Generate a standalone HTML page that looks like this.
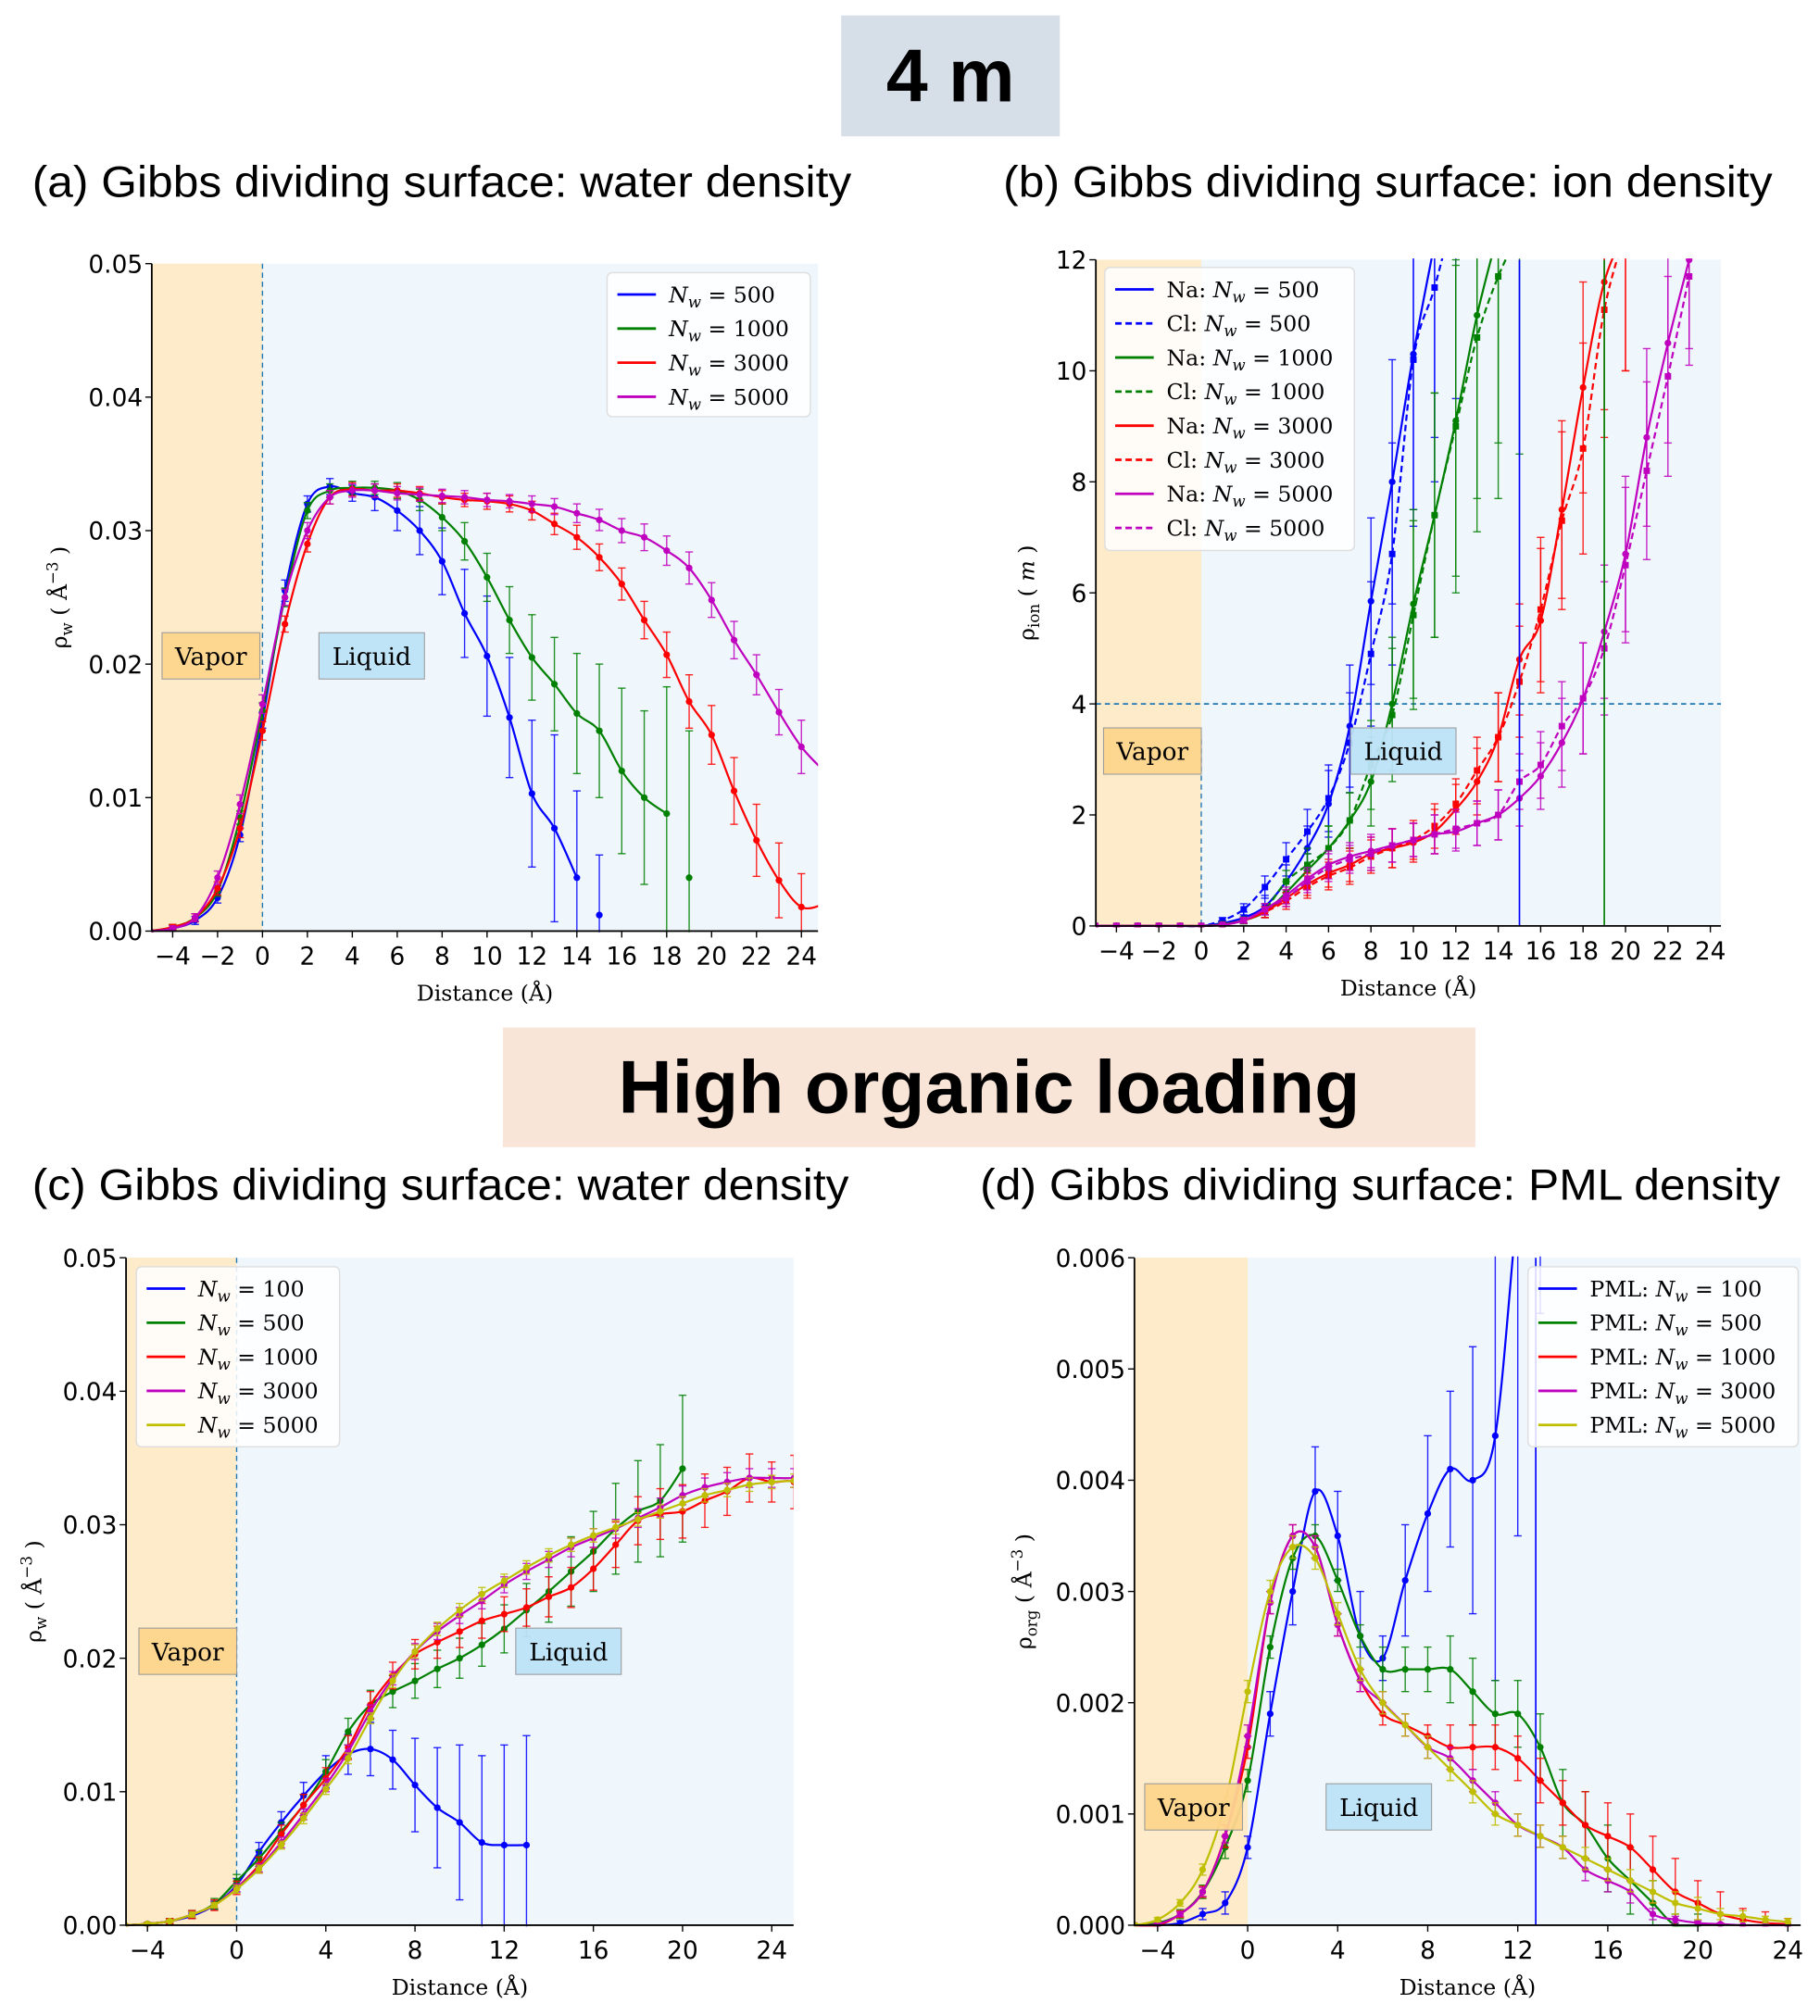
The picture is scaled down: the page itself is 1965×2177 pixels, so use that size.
<!DOCTYPE html>
<html><head><meta charset="utf-8"><style>
html,body{margin:0;padding:0;background:#fff;}
svg{display:block;}
.tick{font-family:"DejaVu Sans","Liberation Sans",sans-serif;font-size:19px;fill:#000;}
.lab{font-family:"DejaVu Serif","Liberation Serif",serif;font-size:17px;fill:#000;}
.leg{font-family:"DejaVu Serif","Liberation Serif",serif;font-size:17px;fill:#000;}
.ttl{font-family:"Liberation Sans",sans-serif;font-size:34px;fill:#000;}
</style></head><body>
<svg id="root" width="1965" height="2177" viewBox="0 0 1415 1567.6" preserveAspectRatio="none" xmlns="http://www.w3.org/2000/svg">
<rect x="654" y="12" width="170" height="94" fill="#d6dee8"/>
<text x="739" y="79" text-anchor="middle" font-family="Liberation Sans,sans-serif" font-weight="bold" font-size="58">4 m</text>
<rect x="391" y="799" width="756" height="93" fill="#f9e4d8"/>
<text x="769" y="865" text-anchor="middle" font-family="Liberation Sans,sans-serif" font-weight="bold" font-size="58">High organic loading</text>
<text class="ttl" x="25" y="153" textLength="637" lengthAdjust="spacingAndGlyphs">(a) Gibbs dividing surface: water density</text>
<text class="ttl" x="780" y="153" textLength="598" lengthAdjust="spacingAndGlyphs">(b) Gibbs dividing surface: ion density</text>
<text class="ttl" x="25" y="933" textLength="635" lengthAdjust="spacingAndGlyphs">(c) Gibbs dividing surface: water density</text>
<text class="ttl" x="762" y="933" textLength="622" lengthAdjust="spacingAndGlyphs">(d) Gibbs dividing surface: PML density</text>
<g id="panels"></g>
</svg>
<script>
// ---- Panel (a) data: water density, 4 m ----
const aX0 = -5;
const aBlue = [0,0.0002,0.0008,0.0025,0.0072,0.0158,0.0255,0.032,0.0333,0.0328,0.0325,0.0315,0.030,0.0277,0.0238,0.0206,0.016,0.0103,0.0077,0.004,0.0012];
const aBlueE = [0,0.0002,0.0003,0.0004,0.0005,0.0006,0.0008,0.0006,0.0006,0.0006,0.001,0.0015,0.0018,0.0025,0.0033,0.0045,0.0045,0.0055,0.007,0.0065,0.0045];
const aGreen = [0,0.0003,0.001,0.003,0.0085,0.0165,0.025,0.0315,0.033,0.0332,0.0332,0.033,0.0323,0.031,0.0292,0.0265,0.0233,0.0205,0.0185,0.0163,0.015,0.012,0.010,0.0088,0.004];
const aGreenE = [0,0.0002,0.0003,0.0004,0.0005,0.0006,0.0007,0.0006,0.0005,0.0005,0.0005,0.0006,0.0008,0.001,0.0014,0.0018,0.0025,0.0032,0.0035,0.0045,0.005,0.0062,0.0065,0.0095,0.011];
const aRed = [0,0.0003,0.001,0.0032,0.0077,0.015,0.023,0.029,0.0325,0.0331,0.033,0.033,0.0328,0.0325,0.0323,0.0322,0.032,0.0315,0.0305,0.0295,0.028,0.026,0.0233,0.0207,0.0172,0.0147,0.0105,0.0068,0.0038,0.0018,0.002];
const aRedE = [0,0.0002,0.0003,0.0005,0.0007,0.0007,0.0006,0.0006,0.0005,0.0005,0.0005,0.0005,0.0005,0.0005,0.0005,0.0006,0.0006,0.0007,0.0008,0.0009,0.001,0.0012,0.0014,0.0017,0.002,0.0022,0.0025,0.0027,0.0028,0.0025,0.003];
const aMag = [0,0.0002,0.001,0.004,0.0095,0.017,0.025,0.030,0.0325,0.033,0.033,0.0328,0.0327,0.0326,0.0325,0.0323,0.0322,0.032,0.0318,0.0313,0.0308,0.030,0.0295,0.0285,0.0272,0.0248,0.0218,0.0192,0.0164,0.0138,0.012];
const aMagE = [0,0.0002,0.0003,0.0005,0.0007,0.0007,0.0006,0.0006,0.0005,0.0005,0.0005,0.0005,0.0005,0.0005,0.0005,0.0005,0.0005,0.0006,0.0006,0.0007,0.0008,0.0009,0.001,0.0011,0.0012,0.0013,0.0014,0.0015,0.0017,0.002,0.0022];
// ---- Panel (b) data: ion density ----
const bNa500 = [0,0,0,0,0,0,0.05,0.15,0.35,0.8,1.4,2.2,3.6,5.85,8.0,10.3,12.3];
const bNa500E = [0,0,0,0,0,0,0.05,0.1,0.2,0.3,0.4,0.6,1.1,1.5,2.2,2.8,3.5];
const bCl500 = [0,0,0,0,0,0,0.1,0.3,0.7,1.2,1.7,2.3,3.3,4.9,6.7,10.2,11.5,13];
const bCl500E = [0,0,0,0,0,0,0.05,0.1,0.2,0.3,0.4,0.6,0.9,1.3,2.0,3.0,3.5,3.5];
const bNa1000 = [0,0,0,0,0,0,0.03,0.1,0.25,0.6,1.0,1.4,1.9,2.6,4.0,5.8,7.4,9.1,11.0,12.5];
const bNa1000E = [0,0,0,0,0,0,0.03,0.06,0.1,0.2,0.3,0.4,0.5,0.8,1.2,1.7,2.2,2.8,3.3,3.8];
const bCl1000 = [0,0,0,0,0,0,0.03,0.1,0.3,0.8,1.1,1.4,1.9,2.9,3.8,5.6,7.4,9.0,10.6,11.7,12.5];
const bCl1000E = [0,0,0,0,0,0,0.03,0.06,0.1,0.2,0.3,0.4,0.5,0.8,1.2,1.7,2.2,3.0,3.5,4.0,4.0];
const bNa3000 = [0,0,0,0,0,0,0.02,0.1,0.25,0.5,0.75,0.95,1.1,1.3,1.4,1.5,1.7,2.1,2.6,3.4,4.8,5.5,7.5,9.7,11.6,12.5];
const bNa3000E = [0,0,0,0,0,0,0.02,0.05,0.1,0.15,0.2,0.25,0.3,0.3,0.35,0.35,0.4,0.45,0.6,0.8,1.0,1.3,1.6,1.9,2.3,2.5];
const bCl3000 = [0,0,0,0,0,0,0.02,0.1,0.25,0.45,0.7,0.9,1.05,1.25,1.4,1.55,1.8,2.2,2.8,3.4,4.4,5.7,7.3,8.6,11.1,12.5];
const bCl3000E = [0,0,0,0,0,0,0.02,0.05,0.1,0.15,0.2,0.25,0.3,0.3,0.35,0.35,0.4,0.45,0.6,0.8,1.0,1.3,1.6,1.9,2.3,2.5];
const bNa5000 = [0,0,0,0,0,0,0.02,0.1,0.3,0.55,0.85,1.1,1.25,1.35,1.45,1.55,1.65,1.7,1.85,2.0,2.3,2.7,3.3,4.1,5.3,6.7,8.8,10.5,12];
const bNa5000E = [0,0,0,0,0,0,0.02,0.05,0.1,0.15,0.2,0.25,0.25,0.3,0.3,0.3,0.35,0.35,0.4,0.45,0.5,0.6,0.8,1.0,1.2,1.4,1.6,1.8,1.6];
const bCl5000 = [0,0,0,0,0,0,0.02,0.1,0.3,0.5,0.8,1.05,1.2,1.3,1.45,1.55,1.65,1.75,1.85,2.0,2.6,2.9,3.6,4.1,5.0,6.5,8.2,9.9,11.7];
const bCl5000E = [0,0,0,0,0,0,0.02,0.05,0.1,0.15,0.2,0.25,0.25,0.3,0.3,0.3,0.35,0.35,0.4,0.45,0.5,0.6,0.8,1.0,1.2,1.4,1.6,1.8,1.6];
// ---- Panel (c) data: water density, high organic ----
const cBlue = [0,0.0001,0.0003,0.0007,0.0015,0.003,0.0055,0.0077,0.0097,0.0115,0.0128,0.0132,0.0124,0.0105,0.0088,0.0077,0.0062,0.006,0.006];
const cBlueE = [0,0.0001,0.0001,0.0002,0.0003,0.0005,0.0007,0.0008,0.001,0.0012,0.0015,0.002,0.0022,0.0035,0.0045,0.0058,0.0065,0.0075,0.0082];
const cGreen = [0,0.0001,0.0003,0.0008,0.0016,0.0033,0.005,0.007,0.009,0.0115,0.0145,0.0165,0.0175,0.0183,0.0192,0.02,0.021,0.0222,0.0236,0.025,0.0265,0.028,0.0297,0.031,0.0318,0.0342];
const cGreenE = [0,0.0001,0.0002,0.0003,0.0004,0.0005,0.0006,0.0007,0.0008,0.0009,0.001,0.0011,0.0012,0.0013,0.0014,0.0015,0.0016,0.0018,0.002,0.0023,0.0026,0.003,0.0034,0.0038,0.0042,0.0055];
const cRed = [0,0.0001,0.0003,0.0008,0.0015,0.0028,0.0045,0.0068,0.009,0.011,0.0133,0.0165,0.0187,0.0203,0.0212,0.022,0.0228,0.0233,0.0238,0.0246,0.0253,0.0267,0.0285,0.0303,0.0308,0.031,0.0318,0.0325,0.0335,0.0332,0.0332,0.032];
const cRedE = [0,0.0001,0.0002,0.0003,0.0004,0.0005,0.0006,0.0007,0.0008,0.0008,0.0009,0.001,0.001,0.0011,0.0012,0.0012,0.0013,0.0013,0.0014,0.0015,0.0015,0.0016,0.0017,0.0018,0.0019,0.002,0.002,0.0018,0.0018,0.0015,0.002,0.0042];
const cMag = [0,0.0001,0.0003,0.0008,0.0015,0.0028,0.0043,0.0062,0.0083,0.0105,0.013,0.016,0.0185,0.0205,0.022,0.0232,0.0243,0.0255,0.0265,0.0274,0.0283,0.029,0.0297,0.0305,0.0313,0.0322,0.0328,0.0332,0.0335,0.0335,0.0335,0.0337];
const cMagE = [0,0.0001,0.0001,0.0002,0.0002,0.0003,0.0003,0.0004,0.0004,0.0005,0.0005,0.0005,0.0005,0.0006,0.0006,0.0006,0.0006,0.0006,0.0006,0.0006,0.0007,0.0007,0.0007,0.0007,0.0007,0.0007,0.0007,0.0007,0.0007,0.0007,0.0007,0.0007];
const cYel = [0,0.0001,0.0003,0.0008,0.0015,0.0027,0.0042,0.006,0.008,0.0102,0.0125,0.0155,0.0183,0.0205,0.0222,0.0236,0.0248,0.0258,0.0268,0.0277,0.0285,0.0292,0.0298,0.0304,0.031,0.0316,0.0322,0.0326,0.033,0.0332,0.0333,0.0335];
const cYelE = [0,0.0001,0.0001,0.0002,0.0002,0.0003,0.0003,0.0003,0.0004,0.0004,0.0004,0.0004,0.0005,0.0005,0.0005,0.0005,0.0005,0.0005,0.0005,0.0005,0.0005,0.0005,0.0005,0.0005,0.0005,0.0005,0.0005,0.0005,0.0005,0.0005,0.0005,0.0005];
// ---- Panel (d) data: PML density ----
const dBlue = [0,0,0.00002,0.0001,0.0002,0.0007,0.0019,0.003,0.0039,0.0035,0.0026,0.0024,0.0031,0.0037,0.0041,0.004,0.0044,0.0065,0.0085];
const dBlueE = [0,0,0.00002,0.00005,0.0001,0.0001,0.0002,0.0003,0.0004,0.0004,0.0004,0.0002,0.0005,0.0007,0.0007,0.0012,0.0022,0.003,0.003];
const dGreen = [0,0.00002,0.0001,0.0003,0.0007,0.0013,0.0025,0.0033,0.0035,0.0031,0.0026,0.0023,0.0023,0.0023,0.0023,0.0021,0.0019,0.0019,0.0016,0.0011,0.0009,0.0006,0.0004,0.0002,0,0];
const dGreenE = [0,0.00002,0.00004,0.00006,0.0001,0.0001,0.0001,0.0001,0.0001,0.0001,0.0001,0.0002,0.0002,0.0002,0.0003,0.0003,0.0003,0.0003,0.0003,0.0003,0.0003,0.0003,0.0003,0.0002,0.0001,0.0001];
const dRed = [0,0,0.0001,0.0003,0.0008,0.0016,0.0029,0.0035,0.0034,0.0027,0.0022,0.0019,0.0018,0.0017,0.0016,0.0016,0.0016,0.0015,0.0013,0.0011,0.0009,0.0008,0.0007,0.0005,0.0003,0.0002,0.0001,0.00005,0.00002,0.00001];
const dRedE = [0,0,0.00003,0.00005,0.0001,0.0001,0.0001,0.0001,0.0001,0.0001,0.0001,0.0001,0.0001,0.0001,0.0002,0.0002,0.0002,0.0002,0.0002,0.0002,0.0003,0.0003,0.0003,0.0003,0.0003,0.0002,0.0002,0.0001,0.0001,0.00005];
const dMag = [0,0.00001,0.0001,0.0003,0.0008,0.0017,0.0029,0.0035,0.0034,0.0027,0.0022,0.002,0.0018,0.0016,0.0015,0.0013,0.0011,0.0009,0.0008,0.0007,0.0005,0.0004,0.0003,0.0001,0.00005,0.00002,0.00001,0,0,0];
const dMagE = [0,0.00001,0.00002,0.00004,0.00006,0.0001,0.0001,0.0001,0.0001,0.0001,0.0001,0.0001,0.0001,0.0001,0.0001,0.0001,0.0001,0.0001,0.0001,0.0001,0.0001,0.0001,0.0001,0.00005,0.00003,0.00002,0.00001,0,0,0];
const dYel = [0,0.00005,0.0002,0.0005,0.0011,0.0021,0.003,0.0034,0.0033,0.0028,0.0023,0.002,0.0018,0.0016,0.0014,0.0012,0.001,0.0009,0.0008,0.0007,0.0006,0.0005,0.0004,0.0003,0.0002,0.00015,0.0001,0.00008,0.00005,0.00003];
const dYelE = [0,0.00002,0.00003,0.00005,0.00006,0.0001,0.0001,0.0001,0.0001,0.0001,0.0001,0.0001,0.0001,0.0001,0.0001,0.0001,0.0001,0.0001,0.0001,0.0001,0.0001,0.0001,0.0001,0.0001,0.0001,0.0001,0.00005,0.00005,0.00003,0.00003];
const aTicksX = [-4,-2,0,2,4,6,8,10,12,14,16,18,20,22,24];
const aTicksY = ["0.00","0.01","0.02","0.03","0.04","0.05"];
const bTicksY = ["0","2","4","6","8","10","12"];
const cTicksX = [-4,0,4,8,12,16,20,24];
const dTicksY = ["0.000","0.001","0.002","0.003","0.004","0.005","0.006"];

const NS = "http://www.w3.org/2000/svg";
const root = document.getElementById('panels');
function mk(tag, attrs, parent){const e=document.createElementNS(NS,tag);for(const k in attrs)e.setAttribute(k,attrs[k]);(parent||root).appendChild(e);return e;}
function smooth(pts){if(pts.length<2)return "";let d="M"+pts[0][0]+","+pts[0][1];
 for(let i=0;i<pts.length-1;i++){const p0=pts[Math.max(0,i-1)],p1=pts[i],p2=pts[i+1],p3=pts[Math.min(pts.length-1,i+2)];
 d+=" C"+(p1[0]+(p2[0]-p0[0])/6)+","+(p1[1]+(p2[1]-p0[1])/6)+" "+(p2[0]-(p3[0]-p1[0])/6)+","+(p2[1]-(p3[1]-p1[1])/6)+" "+p2[0]+","+p2[1];}
 return d;}
let cid=0;
function panel(P){
 const g=mk('g',{});
 
 
 const sx=v=>P.x0+(v-P.xmin)/(P.xmax-P.xmin)*(P.x1-P.x0);
 const sy=v=>P.y1-(v-P.ymin)/(P.ymax-P.ymin)*(P.y1-P.y0);
 const liq=mk('rect',{x:P.x0,y:P.y0,width:P.x1-P.x0,height:P.y1-P.y0,fill:'#eff7fc'},g);
 
 
 const vap=mk('rect',{x:P.x0,y:P.y0,width:sx(0)-P.x0,height:P.y1-P.y0,fill:'#fdebc9'},g);
 
 
 cid++;const clip=mk('clipPath',{id:'cl'+cid},g);mk('rect',{x:P.x0,y:P.y0-1,width:P.x1-P.x0,height:P.y1-P.y0+2},clip);
 if(P.vline){const l=mk('line',{x1:sx(0),x2:sx(0),y1:P.vline==='full'?P.y0:P.vlineTop,y2:P.y1,stroke:'#1f77b4','stroke-width':1,'stroke-dasharray':'4,3'},g);
  
  }
 if(P.hline!==undefined){const l=mk('line',{x1:P.x0,x2:P.x1,y1:sy(P.hline),y2:sy(P.hline),stroke:'#1f77b4','stroke-width':1.2,'stroke-dasharray':'4,3'},g);
  
  }
 const sg=mk('g',{'clip-path':'url(#cl'+cid+')'},g);
 P.series.forEach(s=>{
  const ss=mk('g',{},sg);
  
  
  const pts=s.y.map((v,i)=>[sx(s.x0+i),sy(v)]);
  const n=s.lineN||pts.length;
  s.y.forEach((v,i)=>{const x=sx(s.x0+i),e=s.e[i];if(e>0){
   mk('line',{x1:x,x2:x,y1:sy(v-e),y2:sy(v+e),stroke:s.c,'stroke-width':1,opacity:0.85},ss);
   mk('line',{x1:x-3,x2:x+3,y1:sy(v-e),y2:sy(v-e),stroke:s.c,'stroke-width':1,opacity:0.85},ss);
   mk('line',{x1:x-3,x2:x+3,y1:sy(v+e),y2:sy(v+e),stroke:s.c,'stroke-width':1,opacity:0.85},ss);}});
  mk('path',{d:smooth(pts.slice(0,n)),fill:'none',stroke:s.c,'stroke-width':1.6,'stroke-dasharray':s.dash?'5,3':'none'},ss);
  pts.forEach(p=>{ if(s.sq) mk('rect',{x:p[0]-2.5,y:p[1]-2.5,width:5,height:5,fill:s.c},ss); else mk('circle',{cx:p[0],cy:p[1],r:2.6,fill:s.c},ss);});
 });
 (P.extraV||[]).forEach(v=>{const l=mk('line',{x1:sx(v.x),x2:sx(v.x),y1:P.y0,y2:P.y1,stroke:v.c,'stroke-width':1.2},sg);
  
  });
 const ax=mk('path',{d:`M${P.x0},${P.y0} V${P.y1} H${P.x1}`,fill:'none',stroke:'#000','stroke-width':1.3},g);
 
 
 P.xt.forEach(t=>{const x=sx(t);mk('line',{x1:x,x2:x,y1:P.y1,y2:P.y1+5,stroke:'#000'},g);
  const tx=mk('text',{x:x,y:P.y1+26,'text-anchor':'middle',class:'tick'},g);tx.textContent=(t<0?'\u2212'+(-t):''+t);
  
  });
 P.yt.forEach(t=>{const y=sy(parseFloat(t));mk('line',{x1:P.x0-5,x2:P.x0,y1:y,y2:y,stroke:'#000'},g);
  const tx=mk('text',{x:P.x0-7,y:y+7,'text-anchor':'end',class:'tick'},g);tx.textContent=t;
  
  });
 const xl=mk('text',{x:(P.x0+P.x1)/2,y:P.y1+54,'text-anchor':'middle',class:'lab'},g);xl.textContent='Distance (Å)';
 
 
 const yl=mk('text',{x:0,y:0,'text-anchor':'middle',class:'lab',transform:`translate(${P.ylx},${(P.y0+P.y1)/2}) rotate(-90)`},g);
 yl.innerHTML=P.ylab;
 
 
 [['Vapor',P.vap,'#fed58e'],['Liquid',P.liq,'#bde3f8']].forEach(([t,pos,col])=>{
  const bg=mk('g',{},g);
  
  
  mk('rect',{x:pos[0],y:pos[1],width:pos[2],height:36,fill:col,stroke:'#999','stroke-width':0.8,opacity:0.95},bg);
  const tt=mk('text',{x:pos[0]+pos[2]/2,y:pos[1]+25,'text-anchor':'middle',class:'lab',style:'font-size:19px'},bg);tt.textContent=t;});
 const L=P.leg;const lg=mk('g',{},g);
 
 
 mk('rect',{x:L.x,y:L.y,width:L.w,height:L.h,rx:4,fill:'#fff',stroke:'#ddd','fill-opacity':0.85},lg);
 P.series.forEach((s,i)=>{const y=L.y+17+i*L.dy;
  const en=mk('g',{},lg);
  
  
  mk('line',{x1:L.x+8,x2:L.x+38,y1:y,y2:y,stroke:s.c,'stroke-width':2,'stroke-dasharray':s.dash?'5,3':'none'},en);
  const t=mk('text',{x:L.x+48,y:y+6,class:'leg'},en);t.innerHTML=s.label;});
}
const NW=n=>`<tspan font-style="italic">N</tspan><tspan font-style="italic" font-size="12" dy="4">w</tspan><tspan dy="-4"> = ${n}</tspan>`;
panel({name:'panel-a',x0:118,x1:636,y0:205,y1:724,xmin:-4.93,xmax:24.74,ymin:0,ymax:0.05,xt:aTicksX,yt:aTicksY,vline:'full',
 ylx:52,ylab:'ρ<tspan font-size="12" dy="4">w</tspan><tspan dy="-4"> ( Å</tspan><tspan font-size="12" dy="-7">−3</tspan><tspan dy="7"> )</tspan>',
 vap:[126,492,76],liq:[248,492,82],leg:{x:472,y:212,w:158,h:112,dy:26.5},
 series:[{name:'series-nw-500',c:'#0000ff',x0:aX0,y:aBlue,e:aBlueE,lineN:20,label:NW(500)},
 {name:'series-nw-1000',c:'#008000',x0:aX0,y:aGreen,e:aGreenE,lineN:24,label:NW(1000)},
 {name:'series-nw-3000',c:'#ff0000',x0:aX0,y:aRed,e:aRedE,label:NW(3000)},
 {name:'series-nw-5000',c:'#bf00bf',x0:aX0,y:aMag,e:aMagE,label:NW(5000)}]});
panel({name:'panel-b',x0:852,x1:1338,y0:202,y1:720,xmin:-4.97,xmax:24.5,ymin:0,ymax:12,xt:aTicksX,yt:bTicksY,vline:'part',vlineTop:575,hline:4,
 ylx:804,ylab:'ρ<tspan font-size="12" dy="4">ion</tspan><tspan dy="-4"> ( </tspan><tspan font-style="italic">m</tspan> )',
 vap:[858,566,76],liq:[1050,566,82],leg:{x:859,y:208,w:194,h:220,dy:26.5},
 extraV:[{x:15,c:'#0000ff'},{x:19,c:'#008000'}],
 series:[{name:'series-na-500',c:'#0000ff',x0:-5,y:bNa500,e:bNa500E,label:'Na: '+NW(500)},
 {name:'series-cl-500',c:'#0000ff',dash:1,sq:1,x0:-5,y:bCl500,e:bCl500E,label:'Cl: '+NW(500)},
 {name:'series-na-1000',c:'#008000',x0:-5,y:bNa1000,e:bNa1000E,label:'Na: '+NW(1000)},
 {name:'series-cl-1000',c:'#008000',dash:1,sq:1,x0:-5,y:bCl1000,e:bCl1000E,label:'Cl: '+NW(1000)},
 {name:'series-na-3000',c:'#ff0000',x0:-5,y:bNa3000,e:bNa3000E,label:'Na: '+NW(3000)},
 {name:'series-cl-3000',c:'#ff0000',dash:1,sq:1,x0:-5,y:bCl3000,e:bCl3000E,label:'Cl: '+NW(3000)},
 {name:'series-na-5000',c:'#bf00bf',x0:-5,y:bNa5000,e:bNa5000E,label:'Na: '+NW(5000)},
 {name:'series-cl-5000',c:'#bf00bf',dash:1,sq:1,x0:-5,y:bCl5000,e:bCl5000E,label:'Cl: '+NW(5000)}]});
panel({name:'panel-c',x0:98,x1:617,y0:978,y1:1497,xmin:-4.96,xmax:24.98,ymin:0,ymax:0.05,xt:cTicksX,yt:aTicksY,vline:'full',
 ylx:32,ylab:'ρ<tspan font-size="12" dy="4">w</tspan><tspan dy="-4"> ( Å</tspan><tspan font-size="12" dy="-7">−3</tspan><tspan dy="7"> )</tspan>',
 vap:[108,1266,76],liq:[401,1266,82],leg:{x:106,y:985,w:158,h:140,dy:26.5},
 series:[{name:'series-nw-100',c:'#0000ff',x0:-5,y:cBlue,e:cBlueE,label:NW(100)},
 {name:'series-nw-500',c:'#008000',x0:-5,y:cGreen,e:cGreenE,label:NW(500)},
 {name:'series-nw-1000',c:'#ff0000',x0:-5,y:cRed,e:cRedE,label:NW(1000)},
 {name:'series-nw-3000',c:'#bf00bf',x0:-5,y:cMag,e:cMagE,label:NW(3000)},
 {name:'series-nw-5000',c:'#bfbf00',x0:-5,y:cYel,e:cYelE,label:NW(5000)}]});
panel({name:'panel-d',x0:882,x1:1400,y0:978,y1:1497,xmin:-5.03,xmax:24.57,ymin:0,ymax:0.006,xt:cTicksX,yt:dTicksY,
 ylx:802,ylab:'ρ<tspan font-size="12" dy="4">org</tspan><tspan dy="-4"> ( Å</tspan><tspan font-size="12" dy="-7">−3</tspan><tspan dy="7"> )</tspan>',
 vap:[890,1387,76],liq:[1031,1387,82],leg:{x:1188,y:985,w:210,h:140,dy:26.5},
 extraV:[{x:12.8,c:'#0000ff'}],
 series:[{name:'series-pml-100',c:'#0000ff',x0:-5,y:dBlue,e:dBlueE,label:'PML: '+NW(100)},
 {name:'series-pml-500',c:'#008000',x0:-5,y:dGreen,e:dGreenE,label:'PML: '+NW(500)},
 {name:'series-pml-1000',c:'#ff0000',x0:-5,y:dRed,e:dRedE,label:'PML: '+NW(1000)},
 {name:'series-pml-3000',c:'#bf00bf',x0:-5,y:dMag,e:dMagE,label:'PML: '+NW(3000)},
 {name:'series-pml-5000',c:'#bfbf00',x0:-5,y:dYel,e:dYelE,label:'PML: '+NW(5000)}]});
</script>
</body></html>
